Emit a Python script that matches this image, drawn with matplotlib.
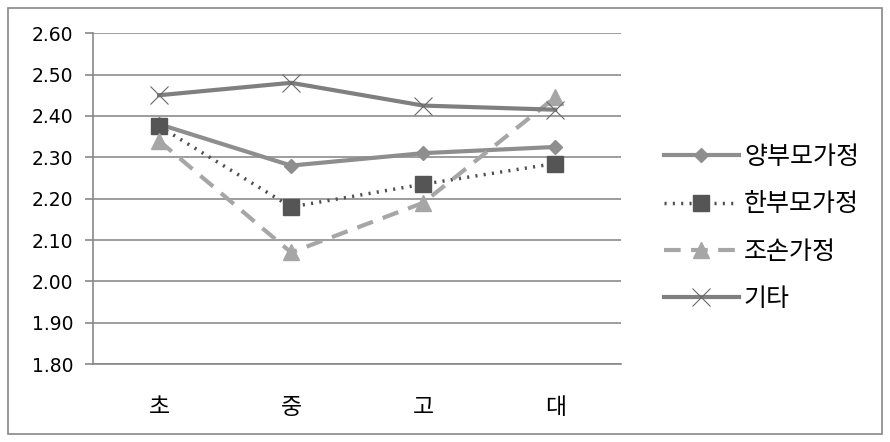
import matplotlib
matplotlib.use("Agg")
import matplotlib.pyplot as plt
from matplotlib.patches import Rectangle

plt.rcParams['font.family'] = ['Noto Sans CJK KR', 'DejaVu Sans']

categories = ['초', '중', '고', '대']
both_parents = [2.38, 2.28, 2.31, 2.325]
single_parent = [2.375, 2.18, 2.235, 2.285]
grandparents = [2.34, 2.07, 2.19, 2.445]
others = [2.45, 2.48, 2.425, 2.415]

fig = plt.figure(figsize=(8.9, 4.42), dpi=100)
fig.patches.append(Rectangle((0.009, 0.018), 0.982, 0.964, transform=fig.transFigure,
                             fill=False, edgecolor='#888888', linewidth=1.2))
ax = fig.add_axes([0.1045, 0.176, 0.5935, 0.749])

x = range(len(categories))
ax.plot(x, both_parents, color='#8e8e8e', lw=3, marker='D', ms=7, label='양부모가정')
ax.plot(x, single_parent, color='#4f4f4f', lw=2.5, ls=(0, (0.6, 1.8)), marker='s', ms=12,
        markerfacecolor='#555555', markeredgecolor='#555555', label='한부모가정')
ax.plot(x, grandparents, color='#a6a6a6', lw=3, ls=(0, (4, 2.5)), marker='^', ms=12, label='조손가정')
ax.plot(x, others, color='#7f7f7f', lw=3, marker='x', ms=13, mew=0.8,
        markeredgecolor='#6a6a6a', label='기타')

ax.set_xlim(-0.5, 3.5)
ax.set_ylim(1.8, 2.6)
yticks = [1.8 + 0.1 * i for i in range(9)]
ax.set_yticks(yticks)
ax.set_yticklabels([f"{v:.2f}" for v in yticks], fontsize=13.5, family='DejaVu Sans')
ax.set_xticks(list(x))
ax.set_xticklabels(categories, fontsize=16.5)
ax.tick_params(axis='x', length=0, pad=23)
ax.tick_params(axis='y', length=6, color='#888888', width=1.2, pad=8)
ax.grid(axis='y', color='#8c8c8c', lw=1.2)
ax.set_axisbelow(True)
for s in ['top', 'right']:
    ax.spines[s].set_visible(False)
for s in ['left', 'bottom']:
    ax.spines[s].set_color('#888888')
    ax.spines[s].set_linewidth(1.2)

fig.legend(loc='center left', bbox_to_anchor=(0.746, 0.484), frameon=False, fontsize=18,
           handlelength=3.0, labelspacing=0.85, handletextpad=0.2, borderpad=0, borderaxespad=0)

fig.savefig('out.png', dpi=100)
